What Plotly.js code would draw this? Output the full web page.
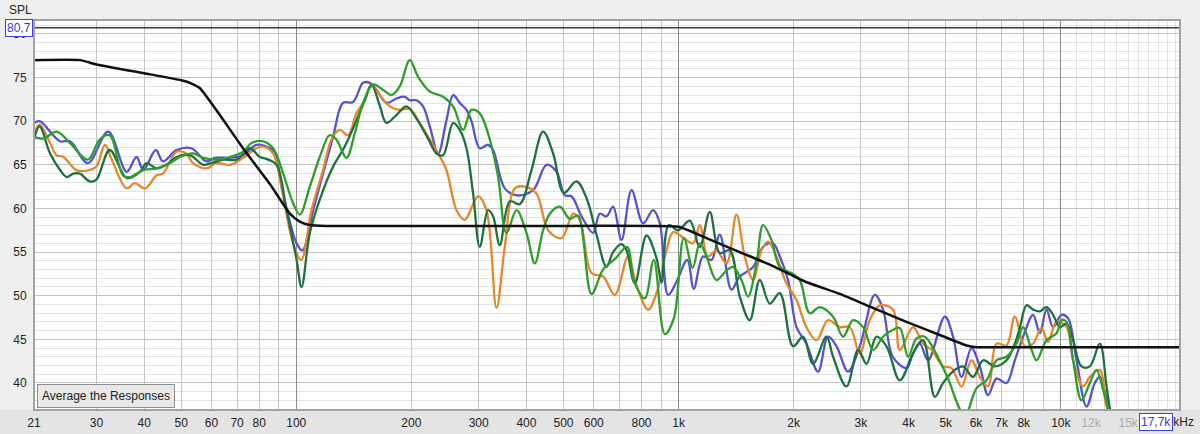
<!DOCTYPE html>
<html>
<head>
<meta charset="utf-8">
<script src="https://cdn.plot.ly/plotly-3.0.1.min.js"></script>
<style>
  html, body { margin: 0; padding: 0; background: #efefef; }
  #chart { width: 1200px; height: 434px; }
</style>
</head>
<body>
<div id="chart"></div>
<script>
// ---- axis extents / cursor readouts ----
const freqMin = 20.6;
const freqMax = 20500;
const splMin = 36.9;
const splMax = 81.6;
const cursorFreq = 17700;
const cursorSpl = 80.7;

// ---- x tick labels ----
const xTickVals = [20.6, 30, 40, 50, 60, 70, 80, 100, 200, 300, 400, 500, 600, 800, 1000, 2000, 3000, 4000, 5000, 6000, 7000, 8000, 10000, 12000, 15000];
const xTickText = ['21', '30', '40', '50', '60', '70', '80', '100', '200', '300', '400', '500', '600', '800', '1k', '2k', '3k', '4k', '5k', '6k', '7k', '8k', '10k',
  '<span style="color:#a9a9a9">12k</span>', '<span style="color:#a9a9a9">15k</span>'];
const xGridRegular = [30, 40, 50, 60, 70, 80, 90, 200, 300, 400, 500, 600, 700, 800, 900, 2000, 3000, 4000, 5000, 6000, 7000, 8000, 9000];
const xGridDecades = [100, 1000, 10000];
const xGridHigh = [11000, 12000, 13000, 14000, 15000, 16000, 17000, 18000, 19000, 20000];

// ---- measured responses [frequency Hz, SPL dB] ----
const blueResponse = [[20.6,69.8],[21.3,70.0],[24.1,67.7],[25.6,67.7],[28.5,65.2],[32.2,68.8],[36.0,64.2],[38.2,65.9],[39.8,64.4],[42.9,66.7],[44.8,65.4],[48.6,66.7],[53.2,66.9],[58.2,65.4],[61.2,65.8],[67.0,65.8],[72.6,66.1],[78.7,67.3],[85.3,66.9],[87.9,66.3],[92.4,61.7],[100.2,56.0],[103.8,55.2],[110.7,59.8],[117.5,64.0],[124.8,68.2],[132.5,72.1],[140.8,72.2],[149.5,74.4],[155.7,74.4],[162.1,73.6],[172.1,72.1],[182.8,72.6],[192.2,72.8],[198.1,72.4],[206.3,72.4],[214.6,71.7],[223.5,69.4],[235.0,66.3],[247.1,70.1],[257.2,73.0],[267.7,72.1],[278.7,71.3],[287.3,70.0],[302.0,66.9],[317.5,67.3],[327.2,66.7],[351.1,62.3],[376.8,61.5],[416.4,62.1],[451.4,65.0],[479.5,64.2],[504.1,61.5],[524.8,61.4],[557.4,59.1],[597.7,57.2],[622.3,59.4],[647.9,59.1],[674.2,60.2],[709.2,56.4],[753.3,62.1],[807.8,58.3],[857.9,59.8],[893.3,58.3],[939.1,50.1],[987.8,51.6],[1054,54.1],[1096,50.8],[1159,54.5],[1219,54.1],[1282,57.0],[1375,50.7],[1446,52.2],[1567,53.3],[1664,55.6],[1767,56.0],[1840,54.5],[1934,51.8],[2035,46.4],[2160,44.5],[2317,41.3],[2461,45.3],[2590,44.2],[2776,41.3],[2979,44.2],[3261,50.1],[3429,48.4],[3634,43.0],[3947,41.7],[4107,43.4],[4276,44.5],[4495,42.6],[4972,47.6],[5226,45.3],[5497,40.7],[5838,44.0],[6138,41.9],[6453,38.6],[6788,40.5],[7209,40.0],[7579,42.6],[7968,45.3],[8463,47.8],[8811,45.7],[9174,48.4],[9546,46.4],[10041,47.8],[10449,47.4],[10991,42.6],[11674,37.3],[12272,40.0],[12648,40.7],[13297,37.3],[13760,35.0]];

const orangeResponse = [[20.6,68.6],[21.3,69.6],[22.7,67.5],[23.6,66.1],[24.6,65.9],[26.6,64.4],[28.8,64.4],[30.0,64.8],[31.6,67.3],[32.9,65.6],[36.0,62.3],[37.8,62.9],[40.2,62.3],[43.1,63.8],[44.8,64.0],[48.6,66.5],[51.6,66.3],[53.7,65.2],[58.2,64.6],[61.9,65.2],[67.0,65.0],[72.6,65.8],[78.7,66.9],[81.9,67.1],[87.0,66.3],[92.4,61.4],[98.1,56.0],[103.0,54.1],[109.6,59.8],[117.5,64.4],[123.6,67.9],[129.9,69.0],[136.6,68.4],[143.7,70.9],[151.1,72.4],[157.3,74.2],[165.3,73.0],[175.6,71.7],[186.5,71.3],[198.1,71.4],[210.4,69.8],[223.5,67.9],[235.0,66.3],[247.1,64.4],[262.5,59.8],[275.9,58.7],[299.0,61.4],[314.4,59.8],[334.0,48.6],[351.1,55.6],[373.0,62.3],[396.1,62.5],[425.0,61.7],[455.7,57.5],[494.1,56.6],[529.8,59.4],[551.7,58.7],[591.9,52.6],[634.8,52.2],[681.1,50.1],[738.0,54.5],[776.3,51.2],[832.5,48.4],[875.7,50.3],[930.1,55.2],[967.8,57.3],[1018,56.8],[1092,56.0],[1136,58.1],[1194,54.5],[1257,55.2],[1335,53.7],[1417,59.3],[1490,54.5],[1567,51.8],[1648,55.2],[1715,56.2],[1803,54.5],[1916,51.4],[2035,49.5],[2160,46.4],[2295,44.9],[2461,47.2],[2641,46.4],[2805,46.4],[2979,43.4],[3164,47.2],[3361,48.9],[3641,48.4],[3791,43.8],[4107,46.4],[4362,44.5],[4589,43.8],[4921,41.9],[5176,41.7],[5497,39.6],[5838,42.6],[6138,40.7],[6453,39.6],[6788,44.5],[7209,44.3],[7579,47.6],[8050,44.2],[8463,44.5],[8902,46.3],[9263,44.7],[9744,47.0],[10349,46.4],[10768,42.6],[11437,39.6],[11908,40.7],[12648,41.5],[13169,37.3],[13703,36.0],[14097,35.0]];

const darkGreenResponse = [[20.6,67.9],[21.3,69.4],[22.7,66.3],[24.1,64.4],[25.1,63.6],[26.1,64.0],[27.15,64.0],[28.8,63.1],[30.0,63.3],[32.5,66.7],[36.0,63.5],[39.0,64.2],[40.6,65.2],[43.1,64.6],[45.8,65.0],[48.6,65.9],[52.7,66.1],[57.1,65.0],[60.0,65.2],[64.4,65.6],[69.8,65.6],[75.6,66.9],[80.3,65.9],[84.4,65.6],[88.8,65.0],[94.3,59.8],[100.2,54.1],[103.2,51.0],[108.5,57.2],[115.2,61.0],[124.8,64.8],[133.9,67.1],[143.7,70.1],[151.1,72.4],[157.3,74.2],[165.3,71.8],[172.1,69.8],[182.8,70.7],[194.2,71.7],[206.3,70.3],[221.2,68.0],[232.7,66.3],[242.1,66.1],[257.2,69.8],[267.7,69.0],[278.7,66.9],[290.1,61.7],[302.0,55.6],[317.5,59.8],[327.2,59.1],[340.7,55.8],[361.9,60.8],[384.3,60.5],[412.4,64.4],[442.2,68.8],[469.8,66.3],[501.0,61.8],[540.8,63.1],[574.4,61.2],[610.0,57.0],[647.9,53.3],[674.2,55.0],[709.2,55.9],[730.9,55.2],[768.4,51.4],[824.5,56.9],[875.7,54.3],[902.5,51.5],[943.1,58.1],[997.4,57.5],[1070,58.6],[1136,55.6],[1207,59.6],[1282,54.9],[1361,55.2],[1446,49.9],[1536,47.2],[1631,51.8],[1732,49.1],[1840,50.3],[1993,44.2],[2117,45.3],[2248,42.2],[2437,45.3],[2537,43.0],[2750,39.6],[2949,43.8],[3102,42.2],[3294,45.3],[3500,44.2],[3791,40.3],[4107,43.4],[4362,44.9],[4681,38.4],[4921,40.0],[5280,41.5],[5550,41.9],[5895,40.7],[6261,42.6],[6718,41.9],[7209,42.6],[7579,44.5],[7811,46.3],[8133,48.9],[8463,48.4],[8811,48.2],[9174,48.7],[9546,47.8],[9939,46.4],[10349,46.8],[10768,44.9],[11327,41.9],[11908,41.9],[12648,44.5],[13169,39.6],[13433,37.1],[13760,35.0]];

const greenResponse = [[20.6,68.2],[21.8,68.0],[23.6,68.8],[25.6,67.5],[28.5,65.6],[30.6,67.9],[32.5,68.4],[35.2,63.8],[36.7,63.6],[39.8,64.4],[43.1,64.6],[46.7,65.2],[49.6,65.9],[53.7,66.3],[57.1,65.8],[61.9,65.6],[67.0,65.9],[72.6,66.5],[76.4,67.5],[81.9,67.7],[87.0,66.9],[92.4,64.0],[98.1,60.6],[102.1,59.3],[108.5,62.5],[115.2,65.9],[122.3,68.4],[127.3,67.9],[135.3,65.8],[142.2,68.6],[149.5,72.1],[158.8,74.2],[168.6,73.6],[177.4,73.0],[186.5,74.0],[198.1,77.0],[208.3,75.1],[223.5,73.4],[242.1,72.8],[257.2,71.7],[273.1,69.0],[287.3,71.3],[302.0,70.9],[320.8,67.9],[337.3,63.6],[354.7,57.2],[376.8,59.8],[400.1,57.2],[420.7,53.7],[442.2,57.5],[460.5,59.4],[489.1,60.2],[519.4,58.8],[545.1,59.2],[591.9,50.2],[634.8,53.0],[685.2,54.3],[733.0,55.6],[766.1,51.6],[816.1,49.7],[861.5,54.1],[920.6,45.6],[971.8,47.4],[1032,56.6],[1089,53.2],[1136,56.0],[1183,54.5],[1257,51.8],[1335,52.9],[1388,53.3],[1461,51.8],[1520,49.9],[1599,53.7],[1664,58.1],[1750,56.4],[1840,53.3],[1974,52.6],[2075,51.8],[2204,48.0],[2341,48.7],[2537,47.6],[2694,45.3],[2861,47.2],[3039,46.4],[3228,43.8],[3429,45.3],[3641,46.1],[3791,46.3],[3985,43.0],[4192,45.1],[4407,45.3],[4633,44.0],[5023,40.9],[5608,36.3],[6017,39.4],[6391,40.3],[6788,42.6],[7209,43.0],[7657,44.5],[7968,46.4],[8381,43.8],[8638,42.6],[9174,44.9],[9744,45.7],[10041,47.2],[10349,47.0],[10768,42.6],[11327,38.0],[11908,40.0],[12399,41.5],[12902,39.2],[13297,37.1],[13597,35.0]];

// ---- target curve [frequency Hz, SPL dB] ----
const targetCurve = [[20.6,77.0],[27.2,77.0],[30.0,76.5],[40.0,75.5],[50.0,74.7],[52.7,74.4],[55.9,73.8],[63.1,70.7],[73.1,66.7],[85.3,62.8],[96.2,59.4],[102.1,58.5],[108.5,58.1],[120,58.0],[500,58.0],[850,58.0],[1000,57.9],[1183,56.6],[1445,55.0],[1766,53.4],[2150,51.6],[2643,50.2],[3224,48.6],[3946,47.0],[4822,45.5],[5662,44.3],[6010,44.1],[8000,44.1],[20500,44.1]];

// ---- colours ----
const colBlue = '#5552d4';
const colOrange = '#e8862c';
const colDarkGreen = '#1d7040';
const colGreen = '#2e9e2a';
const colTarget = '#111111';

function respTrace(pairs, color, axis) {
  return {
    type: 'scatter', mode: 'lines',
    x: pairs.map(p => p[0]), y: pairs.map(p => p[1]),
    xaxis: axis, yaxis: 'y',
    line: { color: color, width: 2.3, shape: 'spline', smoothing: 1 },
    hoverinfo: 'skip'
  };
}

const traces = [
  respTrace(blueResponse, colBlue, 'x'),
  respTrace(orangeResponse, colOrange, 'x2'),
  respTrace(darkGreenResponse, colDarkGreen, 'x2'),
  respTrace(greenResponse, colGreen, 'x2'),
  {
    type: 'scatter', mode: 'lines',
    x: targetCurve.map(p => p[0]), y: targetCurve.map(p => p[1]),
    xaxis: 'x3', yaxis: 'y',
    line: { color: colTarget, width: 2.5, shape: 'spline', smoothing: 0.5 },
    hoverinfo: 'skip'
  }
];

const xRange = [Math.log10(freqMin), Math.log10(freqMax)];
const plotW = 1200 - 34 - 20;
const plotH = 434 - 20 - 24;
const fontFam = 'Liberation Sans, Arial, sans-serif';

const layout = {
  width: 1200, height: 434,
  margin: { l: 34, r: 20, t: 20, b: 24, pad: 0 },
  paper_bgcolor: '#efefef',
  plot_bgcolor: '#ffffff',
  showlegend: false,
  font: { family: fontFam, size: 12, color: '#222222' },
  xaxis: {
    type: 'log', range: xRange,
    tickmode: 'array', tickvals: xTickVals, ticktext: xTickText,
    showgrid: false, zeroline: false, showline: false,
    ticks: 'outside', ticklen: 2, tickcolor: 'rgba(0,0,0,0)',
    tickfont: { family: fontFam, size: 12, color: '#222222' },
    fixedrange: true
  },
  xaxis2: {
    type: 'log', range: xRange, overlaying: 'x', anchor: 'y',
    tickmode: 'array', tickvals: xGridRegular,
    showticklabels: false, ticks: '', showgrid: true,
    gridcolor: '#c6c6c6', gridwidth: 1, zeroline: false, showline: false,
    minor: { tickmode: 'array', tickvals: xGridHigh, showgrid: true, gridcolor: '#e0e0e0', gridwidth: 1, ticks: '' },
    fixedrange: true
  },
  xaxis3: {
    type: 'log', range: xRange, overlaying: 'x', anchor: 'y',
    tickmode: 'array', tickvals: xGridDecades,
    showticklabels: false, ticks: '', showgrid: true,
    gridcolor: '#8a8a8a', gridwidth: 1, zeroline: false, showline: false,
    fixedrange: true
  },
  yaxis: {
    range: [splMin, splMax],
    tickmode: 'linear', tick0: 40, dtick: 5,
    showgrid: true, gridcolor: '#c2c2c2', gridwidth: 1,
    minor: { tick0: 40, dtick: 1, showgrid: true, gridcolor: '#e3e3e3', gridwidth: 1, ticks: '' },
    zeroline: false, showline: false,
    ticks: 'outside', ticklen: 4, tickcolor: 'rgba(0,0,0,0)',
    tickfont: { family: fontFam, size: 12, color: '#222222' },
    fixedrange: true
  },
  shapes: [
    // bottom label strip
    { type: 'rect', xref: 'paper', yref: 'paper', x0: -34 / plotW, x1: 1 + 20 / plotW, y0: -24 / plotH, y1: 0,
      fillcolor: '#e4e4e4', line: { width: 0 }, layer: 'below' },
    // horizontal cursor
    { type: 'line', xref: 'paper', yref: 'y', x0: 0, x1: 1, y0: cursorSpl, y1: cursorSpl,
      line: { color: '#3c3c3c', width: 1.5 } },
    // vertical cursor
    { type: 'line', xref: 'x', yref: 'paper', x0: Math.log10(cursorFreq), x1: Math.log10(cursorFreq), y0: 0, y1: 1,
      line: { color: '#3c3c3c', width: 1.5 } },
    // plot frame
    { type: 'rect', xref: 'paper', yref: 'paper', x0: 0, x1: 1, y0: 0, y1: 1,
      line: { color: '#a2a2a2', width: 2 }, fillcolor: 'rgba(0,0,0,0)' }
  ],
  annotations: [
    { text: 'SPL', xref: 'paper', yref: 'paper', x: -27 / plotW, y: 1 + 10 / plotH,
      xanchor: 'left', yanchor: 'middle', showarrow: false,
      font: { family: fontFam, size: 12, color: '#222222' } },
    { text: '20,7kHz', xref: 'paper', yref: 'paper', x: 1 + 16 / plotW, y: -12 / plotH,
      xanchor: 'right', yanchor: 'middle', showarrow: false,
      font: { family: fontFam, size: 12, color: '#222222' } },
    { text: '80,7', xref: 'paper', yref: 'y', x: -1 / plotW, y: cursorSpl,
      xanchor: 'right', yanchor: 'middle', showarrow: false,
      bgcolor: '#ffffff', bordercolor: '#3a44d0', borderwidth: 1, borderpad: 1,
      font: { family: fontFam, size: 12, color: '#2f3bcf' } },
    { text: '17,7k', xref: 'x', yref: 'paper', x: Math.log10(cursorFreq), y: -12 / plotH,
      xanchor: 'center', yanchor: 'middle', showarrow: false,
      bgcolor: '#ffffff', bordercolor: '#3a44d0', borderwidth: 1, borderpad: 1,
      font: { family: fontFam, size: 12, color: '#2f3bcf' } },
    { text: 'Average the Responses', xref: 'paper', yref: 'paper', x: 3 / plotW, y: 2 / plotH,
      xanchor: 'left', yanchor: 'bottom', showarrow: false,
      width: 130, height: 16, borderpad: 3,
      bgcolor: '#e9e9e9', bordercolor: '#8c8c8c', borderwidth: 1,
      font: { family: fontFam, size: 12, color: '#222222' } }
  ]
};

Plotly.newPlot('chart', traces, layout, { staticPlot: true, displayModeBar: false });
</script>
</body>
</html>
